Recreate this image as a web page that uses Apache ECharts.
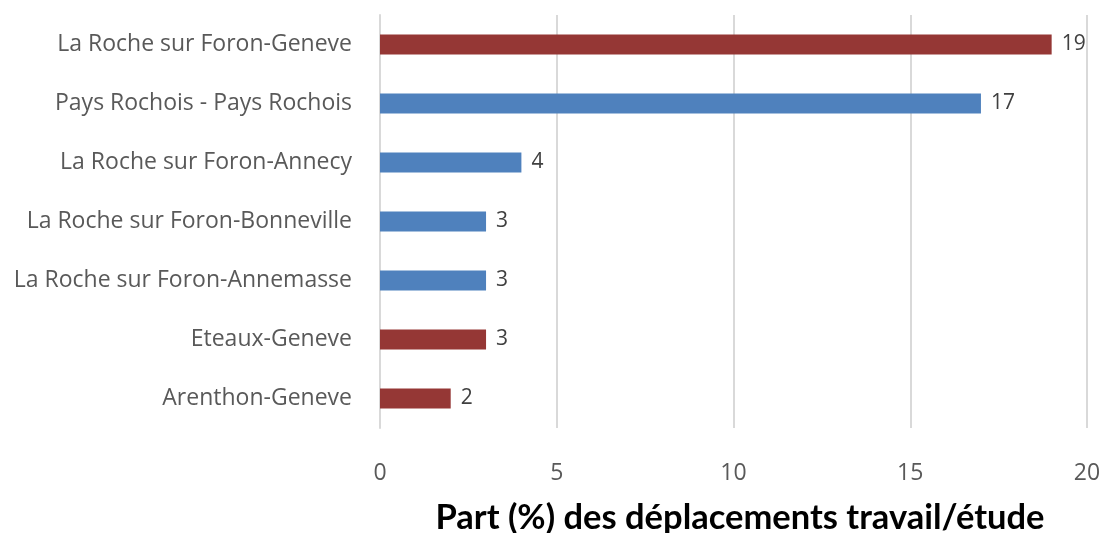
<!DOCTYPE html>
<html>
<head>
<meta charset="utf-8">
<script src="https://cdn.jsdelivr.net/npm/echarts@6/dist/echarts.min.js"></script>
<style>
    html, body { margin: 0; padding: 0; background: #fff; }
    #chart { width: 1104px; height: 533px; }
</style>
</head>
<body>
<div id="chart"></div>
<script>
    // liaisons, du haut vers le bas
    const liaisons = [
        'La Roche sur Foron-Geneve',
        'Pays Rochois - Pays Rochois',
        'La Roche sur Foron-Annecy',
        'La Roche sur Foron-Bonneville',
        'La Roche sur Foron-Annemasse',
        'Eteaux-Geneve',
        'Arenthon-Geneve'
    ];
    const parts = [19, 17, 4, 3, 3, 3, 2];
    // destination Genève (transfrontalier) ou non
    const versGeneve = [true, false, false, false, false, true, true];

    const rouge = '#953735';
    const bleu = '#4f81bd';

    const myChart = echarts.init(document.getElementById('chart'));
    const option = {
        textStyle: { fontFamily: 'Open Sans' },
        title: {
            text: 'Part (%) des déplacements travail/étude',
            left: 735,
            top: 495,
            textAlign: 'center',
            textStyle: { fontFamily: 'Lato', fontSize: 34.5, fontWeight: 'bold', color: '#000' }
        },
        grid: { left: 380, right: 17, top: 15, bottom: 105, containLabel: false },
        xAxis: {
            type: 'value',
            min: 0,
            max: 20,
            interval: 5,
            axisLine: { show: false },
            axisTick: { show: false },
            axisLabel: { color: '#595959', fontSize: 23, fontFamily: 'Open Sans', margin: 34 },
            splitLine: { lineStyle: { color: '#d9d9d9', width: 2 } }
        },
        yAxis: {
            type: 'category',
            inverse: true,
            data: liaisons,
            axisLine: { show: true, lineStyle: { color: '#d9d9d9', width: 2 } },
            axisTick: { show: false },
            axisLabel: { color: '#595959', fontSize: 23, fontFamily: 'Open Sans', margin: 28 }
        },
        series: [{
            type: 'bar',
            barWidth: 20,
            data: parts.map((v, i) => ({
                value: v,
                itemStyle: { color: versGeneve[i] ? rouge : bleu }
            })),
            label: {
                show: true,
                position: 'right',
                distance: 10,
                color: '#404040',
                fontSize: 21,
                fontFamily: 'Open Sans'
            }
        }]
    };
    myChart.setOption(option);
</script>
</body>
</html>
